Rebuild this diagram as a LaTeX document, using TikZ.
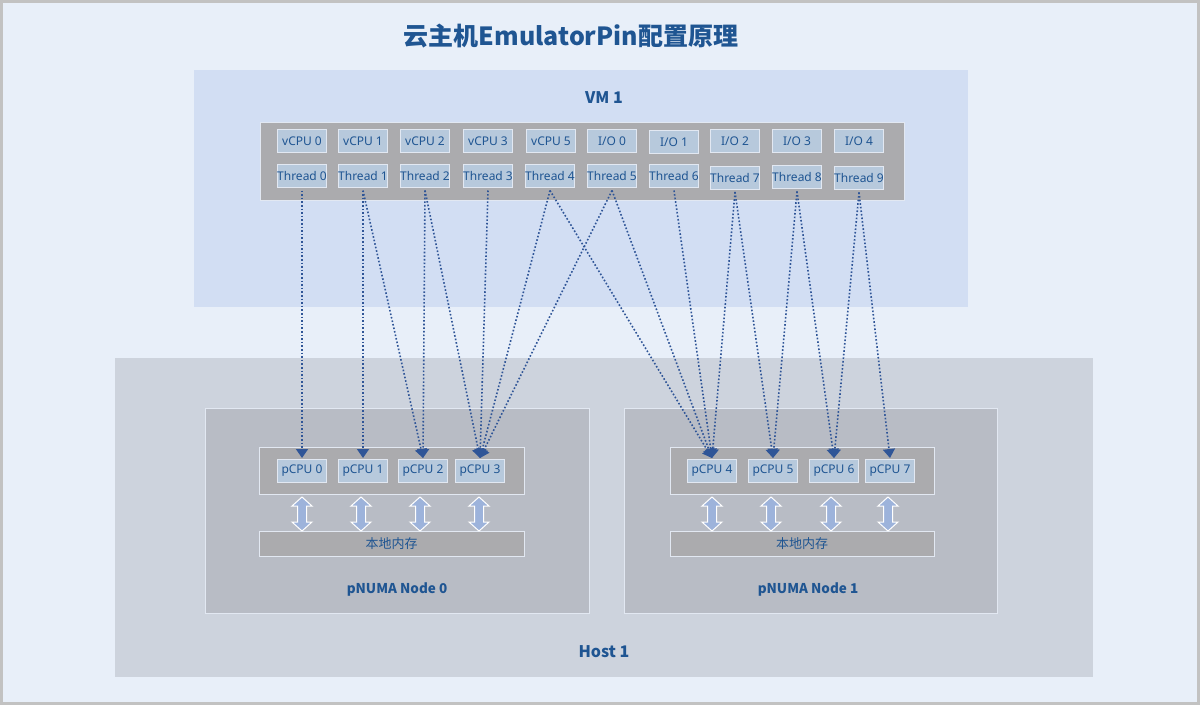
\documentclass[tikz,border=0pt]{standalone}
\usepackage{fontspec}
\setmainfont{Noto Sans}
\newfontfamily\cjk{Noto Sans CJK SC}
\usetikzlibrary{arrows.meta}
\definecolor{bgc}{HTML}{E8EFF9}
\definecolor{framec}{HTML}{C2C2C2}
\definecolor{vmc}{HTML}{D2DEF3}
\definecolor{hostc}{HTML}{CDD3DD}
\definecolor{numac}{HTML}{B8BCC5}
\definecolor{barc}{HTML}{ABABAE}
\definecolor{cellc}{HTML}{B7C9DC}
\definecolor{linec}{HTML}{E2E8F2}
\definecolor{txtc}{HTML}{1F5592}
\definecolor{arrc}{HTML}{2F5597}
\definecolor{dac}{HTML}{9DB3DB}
\begin{document}
\begin{tikzpicture}[x=1pt,y=-1pt,
  area/.style={draw=linec,line width=1,inner sep=0,outer sep=0},
  cell/.style={area,fill=cellc,minimum width=49,minimum height=23,font=\fontsize{12}{13}\selectfont,text=txtc},
  lbl/.style={font=\cjk\bfseries\fontsize{16}{18}\selectfont,text=txtc},
  nlbl/.style={font=\cjk\bfseries\fontsize{13.5}{15}\selectfont,text=txtc},
  memtxt/.style={font=\cjk\fontsize{13}{15}\selectfont,text=txtc},
  pin/.style={draw=arrc,line width=1.6,dotted,-{Triangle[width=12,length=9]}},
  darrow/.style={fill=dac,draw=white,line width=1,line join=miter}
]
\useasboundingbox (0,0) rectangle (1200,705);
\fill[bgc] (0,0) rectangle (1200,705);
\draw[framec,line width=3] (1.5,1.5) rectangle (1198.5,703.5);

\node[font=\cjk\bfseries\fontsize{25}{28}\selectfont,text=txtc] (title) at (571,36) {云主机EmulatorPin配置原理};

% VM
\node[area,draw=none,fill=vmc,minimum width=774,minimum height=237] (vm) at (581,188.5) {};
\node[lbl] (vmlbl) at (604,98) {VM 1};
\node[area,fill=barc,minimum width=644,minimum height=78] (vbar) at (582,161) {};

% Host
\node[area,draw=none,fill=hostc,minimum width=978,minimum height=319] (host) at (604,517.5) {};
\node[lbl] (hostlbl) at (604,652) {Host 1};
\node[area,fill=numac,minimum width=384,minimum height=205] (n0) at (397,510.5) {};
\node[area,fill=numac,minimum width=373,minimum height=205] (n1) at (810.5,510.5) {};
\node[nlbl] (n0lbl) at (397,589) {pNUMA Node 0};
\node[nlbl] (n1lbl) at (808,589) {pNUMA Node 1};
\node[area,fill=barc,minimum width=265,minimum height=47] (pb0) at (391.5,470.5) {};
\node[area,fill=barc,minimum width=264,minimum height=47] (pb1) at (802,470.5) {};
\node[area,fill=barc,minimum width=265,minimum height=25,memtxt] (m0) at (391.5,543.5) {本地内存};
\node[area,fill=barc,minimum width=264,minimum height=25,memtxt] (m1) at (802,543.5) {本地内存};

% vCPU row
\node[cell] (v0) at (302,141) {vCPU 0};
\node[cell] (v1) at (363,141) {vCPU 1};
\node[cell] (v2) at (425,141) {vCPU 2};
\node[cell] (v3) at (488,141) {vCPU 3};
\node[cell] (v5) at (551,141) {vCPU 5};
\node[cell] (io0) at (612,141) {I/O 0};
\node[cell] (io1) at (674,142) {I/O 1};
\node[cell] (io2) at (735,141) {I/O 2};
\node[cell] (io3) at (797,141) {I/O 3};
\node[cell] (io4) at (859,141) {I/O 4};

% Thread row
\node[cell] (t0) at (302,176) {Thread 0};
\node[cell] (t1) at (363,176) {Thread 1};
\node[cell] (t2) at (425,176) {Thread 2};
\node[cell] (t3) at (488,176) {Thread 3};
\node[cell] (t4) at (550,176) {Thread 4};
\node[cell] (t5) at (612,176) {Thread 5};
\node[cell] (t6) at (674,176) {Thread 6};
\node[cell] (t7) at (735,177.5) {Thread 7};
\node[cell] (t8) at (797,177) {Thread 8};
\node[cell] (t9) at (859,178) {Thread 9};

% pCPU row
\node[cell] (p0) at (302,470.5) {pCPU 0};
\node[cell] (p1) at (363,470.5) {pCPU 1};
\node[cell] (p2) at (423,470.5) {pCPU 2};
\node[cell] (p3) at (480,470.5) {pCPU 3};
\node[cell] (p4) at (712,470.5) {pCPU 4};
\node[cell] (p5) at (773,470.5) {pCPU 5};
\node[cell] (p6) at (834,470.5) {pCPU 6};
\node[cell] (p7) at (890,470.5) {pCPU 7};

% memory arrows (double-headed block arrows)
\foreach \x in {302,361,420,479,712,771,831,888}
  \draw[darrow] (\x,497) -- ++(10,9) -- ++(-5.5,0) -- ++(0,16) -- ++(5.5,0)
     -- ++(-10,9) -- ++(-10,-9) -- ++(5.5,0) -- ++(0,-16) -- ++(-5.5,0) -- cycle;

% pinning
\foreach \a/\b in {t0/p0,t1/p1,t1/p2,t2/p2,t2/p3,t3/p3,t4/p3,t4/p4,t5/p3,t5/p4,t6/p4,t7/p4,t7/p5,t8/p5,t8/p6,t9/p6,t9/p7}
  \draw[pin] ([yshift=-3]\a.south) -- ([yshift=1]\b.north);
\end{tikzpicture}
\end{document}
